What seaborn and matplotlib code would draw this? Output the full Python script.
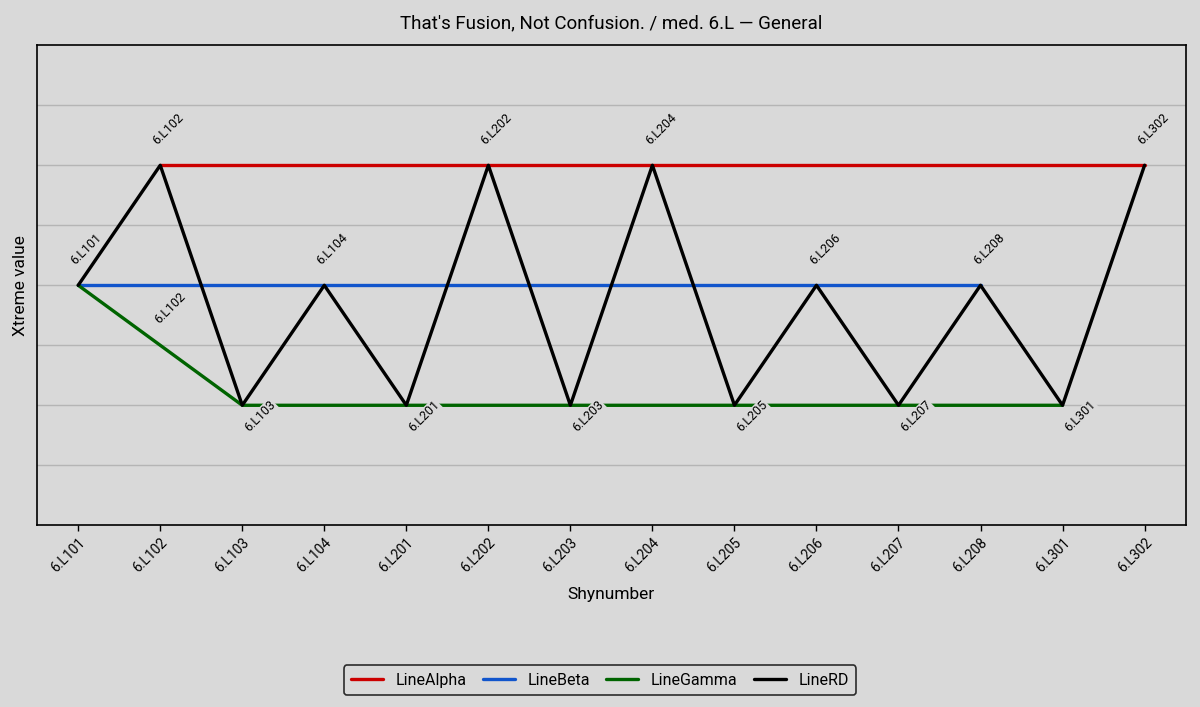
import pandas as pd
import numpy as np
import matplotlib.pyplot as plt
import seaborn as sns

codes = ["6.L101", "6.L102", "6.L103", "6.L104", "6.L201", "6.L202", "6.L203",
         "6.L204", "6.L205", "6.L206", "6.L207", "6.L208", "6.L301", "6.L302"]

line_alpha = [np.nan, 5, 5, 5, 5, 5, 5, 5, 5, 5, 5, 5, 5, 5]
line_beta = [3, 3, 3, 3, 3, 3, 3, 3, 3, 3, 3, 3, np.nan, np.nan]
line_gamma = [3, 2, 1, 1, 1, 1, 1, 1, 1, 1, 1, 1, 1, np.nan]
line_rd = [3, 5, 1, 3, 1, 5, 1, 5, 1, 3, 1, 3, 1, 5]

series = {"LineAlpha": line_alpha, "LineBeta": line_beta,
          "LineGamma": line_gamma, "LineRD": line_rd}
colores = {"LineAlpha": "#cc0000", "LineBeta": "#1155cc",
           "LineGamma": "#006400", "LineRD": "#000000"}

pos = np.arange(len(codes))
df = pd.concat(
    [pd.DataFrame({"pos": pos, "valor": v, "linea": k}) for k, v in series.items()]
).dropna()

bg = "#d9d9d9"
sns.set_theme(style="white")
plt.rcParams["font.family"] = ["Roboto", "DejaVu Sans"]
plt.rcParams["text.color"] = "black"
plt.rcParams["axes.labelcolor"] = "black"
plt.rcParams["xtick.color"] = "black"

fig, ax = plt.subplots(figsize=(12, 7.07), dpi=100)
fig.patch.set_facecolor(bg)
ax.set_facecolor(bg)

sns.lineplot(data=df, x="pos", y="valor", hue="linea", palette=colores,
             linewidth=2.4, sort=False, ax=ax)

# etiquetas de la línea RD (arriba en picos, abajo en valles)
for i, (c, v) in enumerate(zip(codes, line_rd)):
    if v == 1:
        off = (13, -8)
    else:
        off = (6, 26)
    ax.annotate(c, (i, v), xytext=off, textcoords="offset points",
                ha="center", va="center", rotation=45, fontsize=9,
                bbox=dict(boxstyle="square,pad=0.05", fc=bg, ec="none"))
ax.annotate(codes[1], (1, line_gamma[1]), xytext=(7, 27),
            textcoords="offset points", ha="center", va="center",
            rotation=45, fontsize=9)

ax.set_xlim(-0.5, len(codes) - 0.5)
ax.set_ylim(-1, 7)
ax.set_xticks(pos)
ax.set_xticklabels(codes, rotation=45, ha="right", rotation_mode="anchor", fontsize=10)
ax.set_yticks(range(0, 7))
ax.set_yticklabels([])
ax.tick_params(axis="y", length=0)
ax.tick_params(axis="x", length=4, width=1, color="black", bottom=True)
ax.yaxis.grid(True, color="#b5b5b5", linewidth=1)
ax.xaxis.grid(False)
for s in ax.spines.values():
    s.set_color("black")
    s.set_linewidth(1.2)

ax.set_title("That's Fusion, Not Confusion. / med. 6.L — General", fontsize=13.5, pad=12)
ax.set_xlabel("Shynumber", fontsize=12.5, labelpad=8)
ax.set_ylabel("Xtreme value", fontsize=12.5, labelpad=3)

ax.legend_.remove()
leg = fig.legend(*ax.get_legend_handles_labels(), loc="center", ncol=4,
                 bbox_to_anchor=(0.5, 0.038), fontsize=11.5, frameon=True,
                 handlelength=2.0, columnspacing=1.0, borderpad=0.45)
leg.get_frame().set_edgecolor("black")
leg.get_frame().set_facecolor(bg)
leg.get_frame().set_linewidth(1.2)

fig.subplots_adjust(left=0.031, right=0.988, top=0.936, bottom=0.257)
fig.savefig("out.png", dpi=100, facecolor=bg)
